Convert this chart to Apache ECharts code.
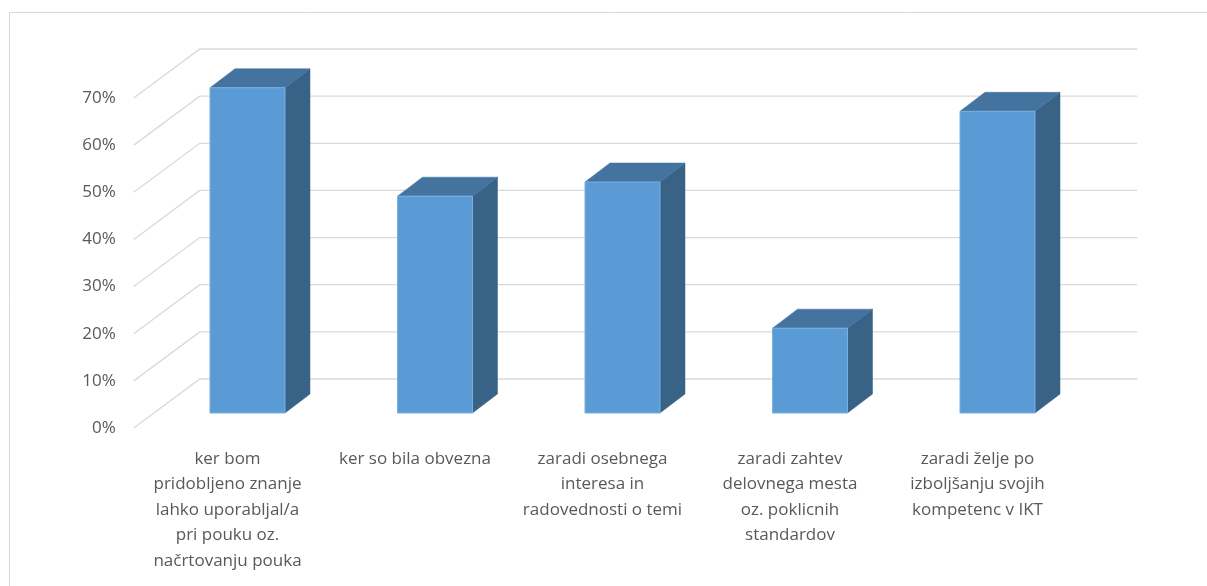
<!DOCTYPE html>
<html><head><meta charset="utf-8">
<script src="https://cdn.jsdelivr.net/npm/echarts@6/dist/echarts.min.js"></script>
<style>html,body{margin:0;padding:0;background:#fff}#c{width:1207px;height:586px}</style>
</head><body><div id="c"></div>
<script>
const categories = [
  'ker bom\npridobljeno znanje\nlahko uporabljal/a\npri pouku oz.\nnačrtovanju pouka',
  'ker so bila obvezna',
  'zaradi osebnega\ninteresa in\nradovednosti o temi',
  'zaradi zahtev\ndelovnega mesta\noz. poklicnih\nstandardov',
  'zaradi želje po\nizboljšanju svojih\nkompetenc v IKT'
];
const values = [0.69, 0.46, 0.49, 0.18, 0.64];
const ticks = [0, 0.1, 0.2, 0.3, 0.4, 0.5, 0.6, 0.7];

const FONT = 'Open Sans';
// oblique depth: back wall offset, bar plane offset, bar depth
const WALL = [66, -49], BARF = [20, -15], BARD = [25, -19];

const chart = echarts.init(document.getElementById('c'), null, {renderer: 'canvas'});
chart.setOption({
  animation: false,
  graphic: [{type: 'rect', shape: {x: 9.5, y: 12.5, width: 1300, height: 700},
    style: {fill: 'none', stroke: '#d9d9d9', lineWidth: 1}, silent: true, z: -10}],
  grid: {left: 133.75, top: 98, width: 937.5, height: 330},
  xAxis: {
    type: 'category', data: categories,
    axisLine: {show: false}, axisTick: {show: false},
    axisLabel: {color: '#595959', fontFamily: FONT, fontSize: 17, lineHeight: 25.5, margin: 18, interval: 0}
  },
  yAxis: {
    type: 'value', min: 0, max: 0.7, interval: 0.1,
    axisLine: {show: false}, axisTick: {show: false}, splitLine: {show: false},
    axisLabel: {color: '#595959', fontFamily: FONT, fontSize: 17, margin: 18,
      formatter: v => Math.round(v * 100) + '%'}
  },
  series: [
    {
      type: 'custom', z: 1, silent: true,
      data: ticks.map(t => [0, t]),
      renderItem: function (params, api) {
        const cs = params.coordSys;
        const p = api.coord([0, api.value(1)]);
        const y = p[1];
        const x0 = cs.x, x1 = cs.x + cs.width;
        return {
          type: 'polyline',
          shape: {points: [[x0, y], [x0 + WALL[0], y + WALL[1]], [x1 + WALL[0], y + WALL[1]]]},
          style: {stroke: '#d9d9d9', lineWidth: 1.3, fill: null}
        };
      }
    },
    {
      type: 'custom', z: 5, silent: true,
      data: values.map((v, i) => [i, v]),
      renderItem: function (params, api) {
        const i = api.value(0), v = api.value(1);
        const base = api.coord([i, 0]);
        const top = api.coord([i, v]);
        const bw = api.size([1, 0])[0] * 0.4;
        const xl = base[0] - bw / 2 + BARF[0], xr = base[0] + bw / 2 + BARF[0];
        const yb = base[1] + BARF[1], yt = top[1] + BARF[1];
        const dx = BARD[0], dy = BARD[1];
        return {
          type: 'group',
          children: [
            {type: 'polygon', shape: {points: [[xr, yt], [xr + dx, yt + dy], [xr + dx, yb + dy], [xr, yb]]},
              style: {fill: '#386286', stroke: '#386286', lineWidth: 0.5}},
            {type: 'polygon', shape: {points: [[xl, yt], [xr, yt], [xr + dx, yt + dy], [xl + dx, yt + dy]]},
              style: {fill: '#44739f', stroke: '#44739f', lineWidth: 0.5}},
            {type: 'rect', shape: {x: xl, y: yt, width: xr - xl, height: yb - yt},
              style: {fill: '#5b9bd5', stroke: '#79b0e0', lineWidth: 1}}
          ]
        };
      }
    }
  ]
});
</script></body></html>
